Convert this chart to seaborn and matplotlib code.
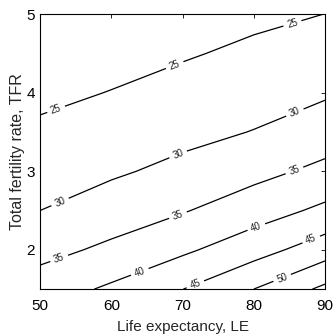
import numpy as np
import pandas as pd
import matplotlib
matplotlib.use("Agg")
import matplotlib.pyplot as plt
import seaborn as sns

# Grid
life_expectancy = [50, 60, 70, 80, 90]
tfr = [1.5, 2.0, 2.5, 3.0, 3.5, 4.0, 4.5, 5.0]
# values of the contoured quantity, one list per life-expectancy column (rows follow tfr)
z_le50 = [37.48, 33.42, 30.00, 27.90, 25.80, 23.95, 22.25, 20.55]
z_le60 = [40.79, 36.01, 32.33, 29.33, 27.23, 25.13, 23.40, 21.70]
z_le70 = [44.94, 39.13, 34.66, 31.23, 28.66, 26.56, 24.56, 22.86]
z_le80 = [50.00, 42.99, 37.66, 33.56, 30.14, 27.98, 25.88, 24.01]
z_le90 = [56.07, 47.61, 41.04, 36.19, 32.47, 29.41, 27.31, 25.02]
levels = [25, 30, 35, 40, 45, 50, 55]

x_ticks = [50, 60, 70, 80, 90]
y_ticks = [2, 3, 4, 5]

df = pd.DataFrame({50: z_le50, 60: z_le60, 70: z_le70, 80: z_le80, 90: z_le90}, index=tfr)

sns.set_theme(style="white")
plt.rcParams['font.family'] = ['Liberation Sans', 'DejaVu Sans']
plt.rcParams['xtick.direction'] = 'in'
plt.rcParams['ytick.direction'] = 'in'

fig = plt.figure(figsize=(3.34, 3.35), dpi=100)
ax = fig.add_axes([0.12, 0.137, 0.853, 0.821])

X, Y = np.meshgrid(df.columns.values.astype(float), df.index.values)
cs = ax.contour(X, Y, df.values, levels=levels, colors='black', linewidths=0.9)

label_pos = [(52.4, 3.75), (68.9, 4.35), (85.4, 4.89),
             (52.8, 2.61), (69.4, 3.21), (85.8, 3.74),
             (52.8, 1.86), (69.4, 2.43), (85.8, 2.99),
             (64.0, 1.72), (80.4, 2.28),
             (71.8, 1.56), (88.2, 2.10),
             (84.0, 1.64)]
labels = ax.clabel(cs, levels=levels[:-1], inline=True, fontsize=7, fmt='%d',
                   manual=label_pos, inline_spacing=4)
for t in labels:
    t.set_color('#222222')

ax.set_xlim(50, 90)
ax.set_ylim(1.5, 5)
ax.set_xticks(x_ticks)
ax.set_yticks(y_ticks)
ax.tick_params(axis='both', which='both', labelsize=11, length=3, width=0.6,
               top=True, right=True, colors='black')
ax.tick_params(axis='x', pad=7)
ax.tick_params(axis='y', pad=3.5)
for s in ax.spines.values():
    s.set_color('black')
    s.set_linewidth(0.8)
ax.set_xlabel('Life expectancy, LE', fontsize=11, labelpad=5)
ax.set_ylabel('Total fertility rate, TFR', fontsize=11.5, labelpad=1)

fig.savefig('out.png', dpi=100, facecolor='white')
